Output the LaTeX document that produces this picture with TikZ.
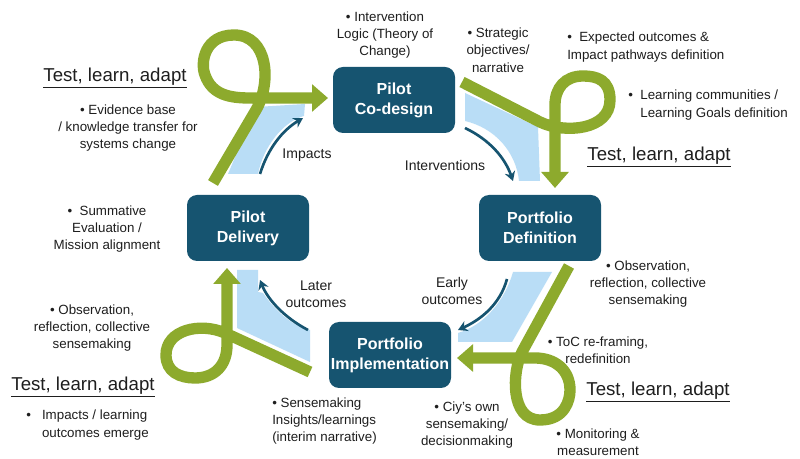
\documentclass[tikz,border=0pt]{standalone}
\usepackage{fontspec}
\setmainfont{Liberation Sans}
\usetikzlibrary{arrows.meta}

\definecolor{stageblue}{RGB}{22,84,112}
\definecolor{loopgreen}{RGB}{141,170,45}
\definecolor{bandblue}{RGB}{185,221,246}
\definecolor{notegray}{RGB}{30,30,30}

\tikzset{
  stage/.style={fill=stageblue, rounded corners=7.5pt, minimum width=91.5pt, minimum height=49.5pt,
    text=white, font=\fontsize{12}{15}\selectfont\bfseries, align=center, inner sep=0pt},
  note/.style={font=\fontsize{10}{13}\selectfont, text=notegray, align=center, inner sep=0pt},
  tla/.style={font=\fontsize{14}{16}\selectfont, text=notegray, inner sep=0pt},
  greenloop/.style={draw=loopgreen, line width=8.5pt, -{Triangle[length=12pt,width=20pt]}},
  band/.style={fill=bandblue},
  flow/.style={draw=stageblue, line width=2pt, -{Stealth[length=7pt,width=8pt]}},
  flowlabel/.style={font=\fontsize{10.5}{13}\selectfont, text=notegray, align=center, inner sep=0pt}
}

\begin{document}
\begin{tikzpicture}[x=0.75pt,y=-0.75pt]
\useasboundingbox[fill=white] (0,0) rectangle (800,459);

% light blue bands
\fill[band] (228,174) -- (256,107) -- (305,104) -- (304,116) .. controls (282,122) and (263,148) .. (258,174) -- cycle;
\fill[band] (465,93) -- (538,127) -- (540,181) -- (519,181) .. controls (516,152) and (495,128) .. (465,121) -- cycle;
\fill[band] (513,272) -- (552,272) -- (512,342) -- (458,342) -- (458,333) .. controls (485,325) and (505,300) .. (513,272) -- cycle;
\fill[band] (237,270) -- (258,270) -- (258,292) -- (263,293) .. controls (275,310) and (290,325) .. (310,330) -- (310,362) -- (237,328) -- cycle;

% test-learn-adapt loops
\draw[greenloop] (213,183) -- (256,110) .. controls (272,82) and (268,35) .. (234,35)
  .. controls (205,35) and (200,62) .. (205,75) .. controls (212,95) and (230,98) .. (250,98) -- (328,98);
\draw[greenloop] (462,82) -- (540,122) .. controls (565,134) and (610,130) .. (610,100)
  .. controls (610,80) and (597,76) .. (583,76) .. controls (565,76) and (555,88) .. (555,105) -- (555,188);
\draw[greenloop] (569,266) -- (522,352) .. controls (512,372) and (510,420) .. (540,420)
  .. controls (565,420) and (570,400) .. (570,390) .. controls (570,370) and (555,358) .. (535,358) -- (457,358);
\draw[greenloop] (310,372) -- (225,333) .. controls (200,322) and (166,330) .. (166,355)
  .. controls (166,372) and (180,378) .. (195,378) .. controls (215,378) and (227,365) .. (227,345) -- (227,268);

% stages
\node[stage] (codesign) at (394,100) {Pilot\\Co-design};
\node[stage] (definition) at (540,228) {Portfolio\\Definition};
\node[stage] (implementation) at (390,355) {Portfolio\\Implementation};
\node[stage] (delivery) at (248,228) {Pilot\\Delivery};

% flows
\coordinate (impacts-from) at (260,174);
\coordinate (impacts-to) at (303,118);
\coordinate (interventions-from) at (465,128);
\coordinate (interventions-to) at (513,181);
\coordinate (early-from) at (507,279);
\coordinate (early-to) at (458,330);
\coordinate (later-from) at (308,330);
\coordinate (later-to) at (260,280);
\draw[flow] (impacts-from) .. controls (268,148) and (283,130) .. (impacts-to);
\draw[flow] (interventions-from) .. controls (490,140) and (505,158) .. (interventions-to);
\draw[flow] (early-from) .. controls (500,305) and (480,320) .. (early-to);
\draw[flow] (later-from) .. controls (285,318) and (268,300) .. (later-to);
\node[flowlabel] (impacts) at (307,155) {Impacts};
\node[flowlabel] (interventions) at (445,166) {Interventions};
\node[flowlabel] (early) at (452,291) {Early\\outcomes};
\node[flowlabel] (later) at (316,294) {Later\\outcomes};

% notes
\node[note] (logic) at (385,35) {\textbullet\ Intervention\\Logic (Theory of\\Change)};
\node[note] (strategic) at (498,50) {\textbullet\ Strategic\\objectives/\\narrative};
\node[note, align=left, anchor=west] (expected) at (567,47) {\textbullet\ \ Expected outcomes \&\\Impact pathways definition};
\node[note, align=left, anchor=west] (communities) at (628,105) {\textbullet\ \ Learning communities /\\\phantom{\textbullet\ \ }Learning Goals definition};
\node[tla] (tla-codesign) at (115,78) {\underline{Test, learn, adapt}};
\node[note] (evidence) at (128,128) {\textbullet\ Evidence base\\/ knowledge transfer for\\systems change};
\node[note] (summative) at (107,229) {\textbullet\ \ Summative\\Evaluation /\\Mission alignment};
\node[tla] (tla-definition) at (659,157) {\underline{Test, learn, adapt}};
\node[note] (observation-right) at (648,284) {\textbullet\ Observation,\\reflection, collective\\sensemaking};
\node[note] (toc) at (598,350) {\textbullet\ ToC re-framing,\\redefinition};
\node[tla] (tla-implementation) at (658,392) {\underline{Test, learn, adapt}};
\node[note] (monitoring) at (598,442) {\textbullet\ Monitoring \&\\measurement};
\node[note] (city) at (467,425) {\textbullet\ Ciy's own\\sensemaking/\\decisionmaking};
\node[note, align=left, anchor=west] (insights) at (272,421) {\textbullet\ Sensemaking\\Insights/learnings\\(interim narrative)};
\node[note] (observation-left) at (92,328) {\textbullet\ Observation,\\reflection, collective\\sensemaking};
\node[tla] (tla-delivery) at (83,387) {\underline{Test, learn, adapt}};
\node[note, align=left, anchor=west] (emerge) at (26,425) {\textbullet\ \ \ Impacts / learning\\\phantom{\textbullet\ \ \ }outcomes emerge};
\end{tikzpicture}
\end{document}
